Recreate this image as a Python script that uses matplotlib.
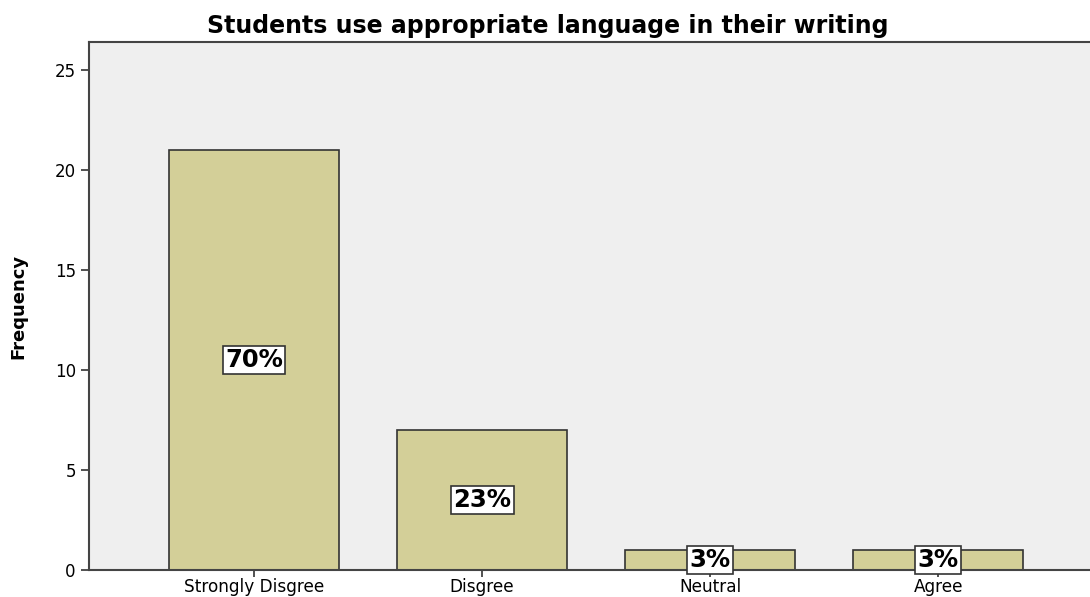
import matplotlib
matplotlib.use("Agg")
import matplotlib.pyplot as plt

# data
categories = ["Strongly Disgree", "Disgree", "Neutral", "Agree"]
frequency = [21, 7, 1, 1]
percent_labels = ["70%", "23%", "3%", "3%"]

plt.rcParams["font.family"] = ["DejaVu Sans"]

fig = plt.figure(figsize=(10.9, 5.97), dpi=100)
ax = fig.add_axes([89 / 1090, 27 / 597, 1022 / 1090, 528 / 597])
ax.set_facecolor("#efefef")

x = range(len(categories))
ax.bar(x, frequency, width=0.745, color="#d3cf98", edgecolor="#333333", linewidth=1.2, zorder=2)

for xi, v, lab in zip(x, frequency, percent_labels):
    ax.text(xi, v / 2, lab, ha="center", va="center", fontsize=17.5, fontweight="bold",
            bbox=dict(boxstyle="square,pad=0.1", facecolor="white", edgecolor="#333333", linewidth=1.2),
            zorder=3)

ax.set_xlim(-0.724, 3.758)
ax.set_ylim(0, 26.4)
ax.set_yticks([0, 5, 10, 15, 20, 25])
ax.set_xticks(list(x))
ax.set_xticklabels(categories, fontsize=12.2)
ax.tick_params(axis="y", labelsize=12, length=6, width=1.2, color="#333333")
ax.tick_params(axis="x", length=5, width=1.2, color="#333333", pad=1)

for side in ["left", "bottom", "top", "right"]:
    ax.spines[side].set_color("#444444")
    ax.spines[side].set_linewidth(1.5)

ax.set_ylabel("Frequency", fontsize=13, fontweight="bold", family="Liberation Sans Narrow", labelpad=20)
fig.text(548 / 1090, 1 - 26 / 597, "Students use appropriate language in their writing",
         ha="center", va="center", fontsize=17, fontweight="bold")

fig.savefig("out.png", dpi=100)
